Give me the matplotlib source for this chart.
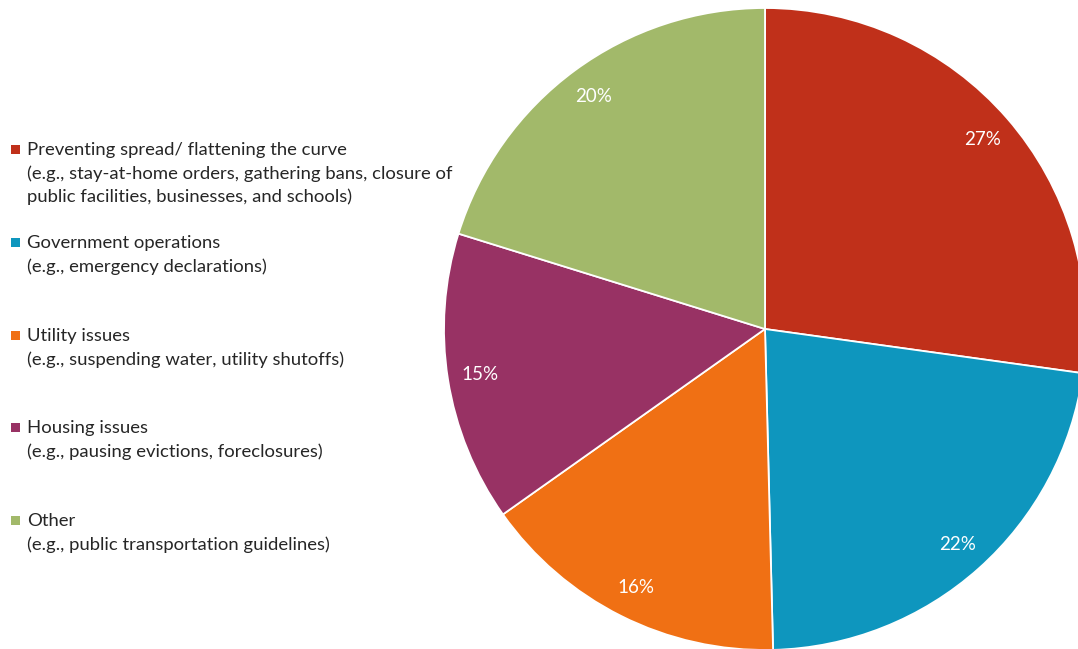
import matplotlib
matplotlib.use("Agg")
import matplotlib.pyplot as plt
from matplotlib.patches import Rectangle

categories = [
    "Preventing spread/ flattening the curve\n(e.g., stay-at-home orders, gathering bans, closure of\npublic facilities, businesses, and schools)",
    "Government operations\n(e.g., emergency declarations)",
    "Utility issues\n(e.g., suspending water, utility shutoffs)",
    "Housing issues\n(e.g., pausing evictions, foreclosures)",
    "Other\n(e.g., public transportation guidelines)",
]
values = [27.2, 22.4, 15.6, 14.6, 20.2]
colors = ["#C0301A", "#0E96BE", "#F07014", "#983264", "#A2B96A"]

plt.rcParams['font.family'] = ['Lato', 'DejaVu Sans']

W, H = 1078, 649
fig = plt.figure(figsize=(W / 100, H / 100), dpi=100)
fig.patch.set_facecolor("white")

cx, cy, r = 765, 329, 321
ax = fig.add_axes([(cx - r) / W, (H - cy - r) / H, 2 * r / W, 2 * r / H])
wedges, texts, autotexts = ax.pie(
    values, colors=colors, startangle=90, counterclock=False,
    autopct="%.0f%%", pctdistance=0.9,
    wedgeprops=dict(edgecolor="white", linewidth=1.3),
    textprops=dict(color="white", fontsize=13.5),
)
ax.set_xlim(-1, 1)
ax.set_ylim(-1, 1)
ax.set_aspect("equal")
ax.axis("off")

# legend drawn manually
tops = [149, 242, 335, 427, 520]
for lab, col, y in zip(categories, colors, tops):
    fig.patches.append(Rectangle((11 / W, (H - y - 5) / H), 9 / W, 9 / H,
                                 transform=fig.transFigure, facecolor=col,
                                 edgecolor="none"))
    fig.text(27 / W, (H - y + 7) / H, lab, fontsize=13.3, color="#262626",
             va="top", ha="left", linespacing=1.52)

fig.savefig("out.png", dpi=100)
